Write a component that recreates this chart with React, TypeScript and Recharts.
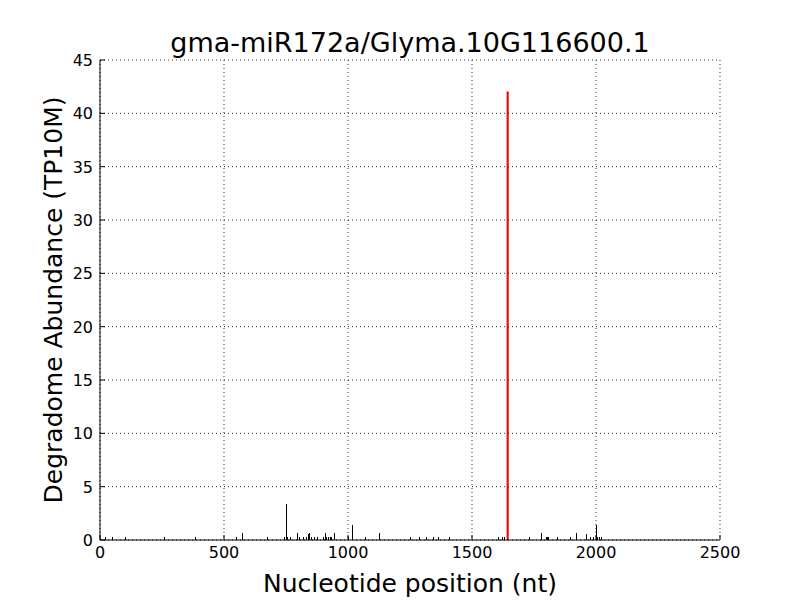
import { Bar, BarChart, CartesianGrid, Cell, XAxis, YAxis } from "recharts";

// degradome reads along the transcript (nt position, TP10M)
const positions = [
  24, 52, 102, 259, 387, 500, 552, 573, 677, 738, 745, 752, 758, 769, 796, 803, 821, 834, 840, 846,
  852, 866, 878, 903, 908, 914, 922, 928, 934, 947, 952, 1003, 1020, 1070, 1126, 1218, 1254, 1288,
  1317, 1331, 1344, 1364, 1409, 1456, 1597, 1608, 1624, 1633, 1644, 1731, 1780, 1801, 1806, 1810,
  1844, 1896, 1921, 1961, 1977, 1989, 2004, 2008, 2016, 2023,
];
const abundance = [
  0.28, 0.28, 0.28, 0.28, 0.28, 0.28, 0.28, 0.65, 0.28, 0.28, 0.28, 3.42, 0.28, 0.28, 0.65, 0.28,
  0.28, 0.28, 0.55, 0.65, 0.28, 0.28, 0.28, 0.28, 0.65, 0.28, 0.28, 0.28, 0.28, 0.65, 0.65, 0.28,
  1.42, 0.28, 0.65, 0.28, 0.28, 0.28, 0.28, 0.28, 0.28, 0.28, 0.28, 0.65, 0.28, 0.28, 0.28, 0.28,
  42.0, 0.28, 0.65, 0.28, 0.28, 0.28, 0.28, 0.28, 0.65, 0.55, 0.28, 0.28, 1.45, 0.28, 0.28, 0.28,
];
const cleavageSite = 1644;

const xTicks = [0, 500, 1000, 1500, 2000, 2500];
const yTicks = [0, 5, 10, 15, 20, 25, 30, 35, 40, 45];

const TITLE = "gma-miR172a/Glyma.10G116600.1";
const FONT = "'DejaVu Sans', sans-serif";

const data = positions.map((pos, i) => ({ pos, value: abundance[i], hit: pos === cleavageSite }));

const BottomTick = (props: any) => {
  const { x, y, payload } = props;
  return (
    <g>
      <line x1={x} y1={y} x2={x} y2={y - 5} stroke="#000" />
      <text x={x} y={y + 18} textAnchor="middle" fontSize={16} fontFamily={FONT} fill="#000">
        {payload.value}
      </text>
    </g>
  );
};

const LeftTick = (props: any) => {
  const { x, y, payload } = props;
  return (
    <g>
      <line x1={x} y1={y} x2={x + 5} y2={y} stroke="#000" />
      <text x={x - 7} y={y + 6} textAnchor="end" fontSize={16} fontFamily={FONT} fill="#000">
        {payload.value}
      </text>
    </g>
  );
};

const TopTick = (props: any) => {
  const { x, y } = props;
  return <line x1={x} y1={y} x2={x} y2={y + 5} stroke="#000" />;
};

const RightTick = (props: any) => {
  const { x, y } = props;
  return <line x1={x} y1={y} x2={x - 5} y2={y} stroke="#000" />;
};

export default function App() {
  return (
    <div style={{ position: "absolute", left: 0, top: 0, width: 800, height: 600, background: "#fff" }}>
      <div
        style={{
          position: "absolute",
          left: 100,
          width: 620,
          top: 27,
          textAlign: "center",
          fontFamily: FONT,
          fontSize: 27,
          lineHeight: "32px",
        }}
      >
        {TITLE}
      </div>
      <BarChart
        width={800}
        height={600}
        data={data}
        margin={{ top: 60, right: 80, bottom: 0, left: 0 }}
        barGap={0}
      >
        <CartesianGrid stroke="#000" strokeDasharray="1 3" strokeWidth={0.8} horizontalValues={yTicks} verticalValues={xTicks} xAxisId="b" yAxisId="l" />
        <XAxis
          xAxisId="b"
          dataKey="pos"
          type="number"
          domain={[0, 2500]}
          ticks={xTicks}
          height={60}
          stroke="#000"
          tickSize={0}
          tickMargin={0}
          tickLine={false}
          tick={<BottomTick />}
          label={{ value: "Nucleotide position (nt)", position: "insideBottom", offset: 8, fontSize: 25, fontFamily: FONT, fill: "#000" }}
        />
        <XAxis
          xAxisId="t"
          orientation="top"
          type="number"
          domain={[0, 2500]}
          ticks={xTicks}
          height={0}
          stroke="#000"
          tickSize={0}
          tickMargin={0}
          tickLine={false}
          tick={<TopTick />}
        />
        <YAxis
          yAxisId="l"
          type="number"
          domain={[0, 45]}
          ticks={yTicks}
          width={100}
          stroke="#000"
          tickSize={0}
          tickMargin={0}
          tickLine={false}
          tick={<LeftTick />}
          allowDataOverflow
          label={{ value: "Degradome Abundance (TP10M)", angle: -90, position: "center", dx: 3, fontSize: 25, fontFamily: FONT, fill: "#000" }}
        />
        <YAxis
          yAxisId="r"
          orientation="right"
          type="number"
          domain={[0, 45]}
          ticks={yTicks}
          width={0}
          stroke="#000"
          tickSize={0}
          tickMargin={0}
          tickLine={false}
          tick={<RightTick />}
        />
        <Bar dataKey="value" xAxisId="b" yAxisId="l" barSize={1} isAnimationActive={false}>
          {data.map((d) => (
            <Cell
              key={d.pos}
              fill={d.hit ? "#ff0000" : "#000"}
              stroke={d.hit ? "#ff0000" : "none"}
              strokeWidth={d.hit ? 1.2 : 0}
              shapeRendering={d.hit ? undefined : "crispEdges"}
            />
          ))}
        </Bar>
      </BarChart>
    </div>
  );
}
